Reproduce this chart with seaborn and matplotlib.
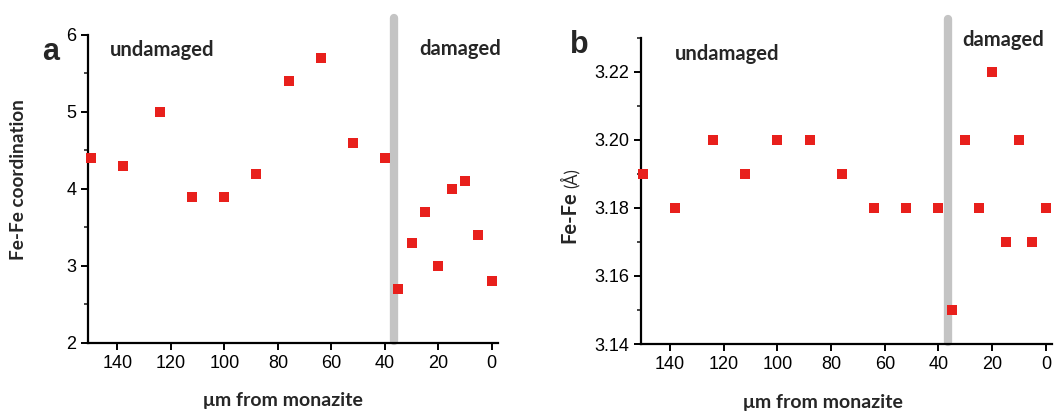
import numpy as np
import pandas as pd
import matplotlib
matplotlib.use("Agg")
import matplotlib.pyplot as plt
import seaborn as sns
from matplotlib.ticker import MultipleLocator

# distance from monazite (um) and the two measured quantities
DIST = [150, 138, 124, 112, 100, 88, 76, 64, 52, 40, 35, 30, 25, 20, 15, 10, 5, 0]
COORD = [4.4, 4.3, 5.0, 3.9, 3.9, 4.2, 5.4, 5.7, 4.6, 4.4, 2.7, 3.3, 3.7, 3.0, 4.0, 4.1, 3.4, 2.8]
FEFE = [3.19, 3.18, 3.20, 3.19, 3.20, 3.20, 3.19, 3.18, 3.18, 3.18, 3.15, 3.20, 3.18, 3.22, 3.17, 3.20, 3.17, 3.18]
BOUNDARY = 36.5

sns.set_style("ticks")
plt.rcParams["font.family"] = ["Liberation Sans", "DejaVu Sans"]

df = pd.DataFrame({"dist": DIST, "coord": COORD, "fefe": FEFE})

RED = "#e8201c"
GREY = "#c4c4c4"
LABEL_FONT = ["Lato", "DejaVu Sans"]

fig = plt.figure(figsize=(10.64, 4.12), dpi=100)
ax_a = fig.add_axes([0.0827, 0.1675, 0.385, 0.7476])
ax_b = fig.add_axes([0.6025, 0.165, 0.386, 0.743])


def style_axis(ax):
    for side in ["top", "right"]:
        ax.spines[side].set_visible(False)
    for side in ["left", "bottom"]:
        ax.spines[side].set_linewidth(1.6)
        ax.spines[side].set_color("black")
    ax.xaxis.set_major_locator(MultipleLocator(20))
    ax.tick_params(which="major", direction="out", length=5, width=1.4,
                   labelsize=13, colors="black")
    ax.tick_params(which="minor", direction="out", length=3, width=1.2)
    ax.tick_params(axis="x", which="minor", length=0)
    ax.set_xlabel("")
    ax.set_ylabel("")


# panel a
ax_a.plot([BOUNDARY, BOUNDARY], [2.03, 6.22], color=GREY, lw=6,
          solid_capstyle="round", clip_on=False, zorder=1)
sns.scatterplot(data=df, x="dist", y="coord", marker="s", s=52, color=RED,
                edgecolor="none", ax=ax_a, zorder=3, clip_on=False)
ax_a.set_xlim(151, -2.2)
ax_a.set_ylim(2, 6)
ax_a.yaxis.set_major_locator(MultipleLocator(1))
ax_a.yaxis.set_minor_locator(MultipleLocator(0.5))
style_axis(ax_a)

# panel b
ax_b.plot([BOUNDARY, BOUNDARY], [3.1405, 3.2355], color=GREY, lw=6,
          solid_capstyle="round", clip_on=False, zorder=1)
sns.scatterplot(data=df, x="dist", y="fefe", marker="s", s=52, color=RED,
                edgecolor="none", ax=ax_b, zorder=3, clip_on=False)
ax_b.set_xlim(150.8, -2.2)
ax_b.set_ylim(3.14, 3.23)
ax_b.yaxis.set_major_locator(MultipleLocator(0.02))
ax_b.yaxis.set_minor_locator(MultipleLocator(0.01))
ax_b.yaxis.set_major_formatter(matplotlib.ticker.FormatStrFormatter("%.2f"))
style_axis(ax_b)

# texts
fig.text(0.040, 0.875, "a", fontsize=22, fontweight="bold", va="center", ha="left")
fig.text(0.536, 0.89, "b", fontsize=22, fontweight="bold", va="center", ha="left")

fig.text(0.1035, 0.878, "undamaged", fontsize=14.5, fontweight="bold",
         family=LABEL_FONT, va="center", ha="left")
fig.text(0.394, 0.881, "damaged", fontsize=14.5, fontweight="bold",
         family=LABEL_FONT, va="center", ha="left")
fig.text(0.6345, 0.868, "undamaged", fontsize=14.5, fontweight="bold",
         family=LABEL_FONT, va="center", ha="left")
fig.text(0.904, 0.902, "damaged", fontsize=14.5, fontweight="bold",
         family=LABEL_FONT, va="center", ha="left")

fig.text(0.266, 0.027, "\u03bcm from monazite", fontsize=14, fontweight="bold",
         family=LABEL_FONT, va="center", ha="center")
fig.text(0.773, 0.022, "\u03bcm from monazite", fontsize=14, fontweight="bold",
         family=LABEL_FONT, va="center", ha="center")

fig.text(0.017, 0.565, "Fe-Fe coordination", fontsize=13.7, fontweight="bold",
         family=LABEL_FONT, rotation=90, va="center", ha="center")
fig.text(0.5355, 0.472, "Fe-Fe", fontsize=14.5, fontweight="bold",
         family=LABEL_FONT, rotation=90, va="center", ha="center")
fig.text(0.5355, 0.568, "(\u00c5)", fontsize=12,
         family=LABEL_FONT, rotation=90, va="center", ha="center")

fig.savefig("out.png", dpi=100, facecolor="white")
